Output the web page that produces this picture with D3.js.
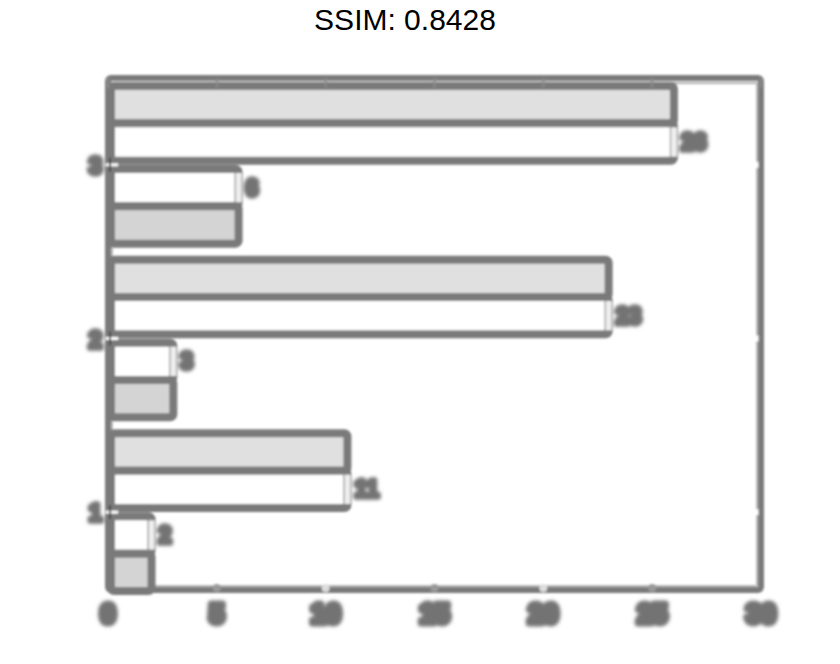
<!DOCTYPE html>
<html><head><meta charset="utf-8">
<script src="https://cdn.jsdelivr.net/npm/d3@7"></script>
<style>body{margin:0;background:#fff;}svg{display:block;}</style>
</head><body>
<script>
const title = "SSIM: 0.8428";
const categories = ["3", "2", "1"];
const upperValues = [26, 23, 11];
const lowerValues = [6, 3, 2];
const xTicks = [0, 5, 10, 15, 20, 25, 30];

const W = 840, H = 664;
const M = {left: 108, right: 80, top: 78, bottom: 74};
const svg = d3.select("body").append("svg").attr("width", W).attr("height", H);

const defs = svg.append("defs");
defs.append("filter").attr("id","blur").attr("x","-5%").attr("y","-5%").attr("width","110%").attr("height","110%")
  .append("feGaussianBlur").attr("stdDeviation", 1.3);
defs.append("filter").attr("id","blur2").attr("x","-30%").attr("y","-30%").attr("width","160%").attr("height","160%")
  .append("feGaussianBlur").attr("stdDeviation", 1.6);

svg.append("text").attr("x", 405).attr("y", 30).attr("text-anchor","middle")
  .attr("font-family","Liberation Sans, Arial, sans-serif").attr("font-size", 30).attr("fill","#000")
  .text(title);

const x = d3.scaleLinear().domain([0, 30]).range([M.left, W - M.right + 1]);
const y = d3.scaleBand().domain(categories).range([M.top, 599]).paddingInner(0).paddingOuter(0);
const half = y.bandwidth() / 2;
const yPair = d3.scaleBand().domain(["a", "b"]).range([-half + 8, half - 8]).paddingInner(0.1);
const ySub = d3.scaleBand().domain(["0", "1"]).range([0, yPair.bandwidth()]);

const g = svg.append("g").attr("filter","url(#blur)");
const gray = "#7a7a7a";

// frame
const yBottom = 590;
g.append("rect").attr("x", x(0)).attr("y", M.top).attr("width", x(30) - x(0)).attr("height", yBottom - M.top)
  .attr("fill","none").attr("stroke", gray).attr("stroke-width", 6).attr("rx", 3);
g.append("line").attr("x1", x(0)+4).attr("x2", x(30)-4).attr("y1", M.top+5).attr("y2", M.top+5)
  .attr("stroke","#b0b0b0").attr("stroke-width", 2);
g.append("line").attr("x1", x(0)+4).attr("x2", x(30)-4).attr("y1", yBottom-4).attr("y2", yBottom-4)
  .attr("stroke","#b8b8b8").attr("stroke-width", 2);
g.append("line").attr("x1", x(0)+4).attr("x2", x(0)+4).attr("y1", M.top+4).attr("y2", yBottom-4)
  .attr("stroke","#b8b8b8").attr("stroke-width", 2);
g.append("line").attr("x1", x(30)-4).attr("x2", x(30)-4).attr("y1", M.top+4).attr("y2", yBottom-4)
  .attr("stroke","#b8b8b8").attr("stroke-width", 2);

// bars
categories.forEach((c, i) => {
  const yc = y(c) + half;
  const rows = [
    {pair:"a", sub:"0", v: upperValues[i], fill:"#e0e0e0", label:false},
    {pair:"a", sub:"1", v: upperValues[i], fill:"#ffffff", label:true},
    {pair:"b", sub:"0", v: lowerValues[i], fill:"#ffffff", label:true},
    {pair:"b", sub:"1", v: lowerValues[i], fill:"#d4d4d4", label:false}
  ];
  rows.forEach(r => {
    const yy = yc + yPair(r.pair) + ySub(r.sub);
    const bh = ySub.bandwidth();
    g.append("rect").attr("x", x(0)+3).attr("y", yy).attr("width", x(r.v) - x(0) - 3).attr("height", bh)
      .attr("fill", r.fill).attr("stroke", gray).attr("stroke-width", 8).attr("rx", 3);
    if (r.label) {
      g.append("line").attr("x1", x(r.v)).attr("x2", x(r.v)).attr("y1", yy+4).attr("y2", yy + bh - 4)
        .attr("stroke","#eeeeee").attr("stroke-width", 6);
      g.append("text").attr("x", x(r.v) + 7).attr("y", yy + bh/2 + 8)
        .attr("font-family","Liberation Sans, Arial, sans-serif").attr("font-weight","bold").attr("font-size", 23)
        .attr("fill", "#6a6a6a").attr("stroke","#737373").attr("stroke-width", 5.5).attr("stroke-linejoin","round")
        .attr("filter","url(#blur2)")
        .text(r.v);
    }
  });
});

// y axis ticks / labels
categories.forEach(c => {
  const yc = y(c) + half;
  g.append("line").attr("x1", x(0)-2).attr("x2", x(0)+10).attr("y1", yc).attr("y2", yc)
    .attr("stroke","#ffffff").attr("stroke-width", 3);
  g.append("line").attr("x1", x(0)+2).attr("x2", x(0)+2).attr("y1", yc-7).attr("y2", yc+7)
    .attr("stroke","#444").attr("stroke-width", 2);
  g.append("text").attr("x", x(0) - 6).attr("y", yc + 9).attr("text-anchor","end")
    .attr("font-family","Liberation Sans, Arial, sans-serif").attr("font-weight","bold").attr("font-size", 24)
    .attr("fill","#6a6a6a").attr("stroke","#737373").attr("stroke-width", 5.5).attr("stroke-linejoin","round")
    .attr("filter","url(#blur2)").text(c);
  g.append("line").attr("x1", x(30)-4).attr("x2", x(30)-4).attr("y1", yc-3).attr("y2", yc+3)
    .attr("stroke","#ffffff").attr("stroke-width", 3);
});

// x axis ticks / labels
xTicks.forEach(t => {
  g.append("line").attr("x1", x(t)).attr("x2", x(t)).attr("y1", M.top).attr("y2", M.top+10)
    .attr("stroke", "#8a8a8a").attr("stroke-width", 2);
  if (t > 0 && t < 30) {
    g.append("circle").attr("cx", x(t)).attr("cy", yBottom - 2).attr("r", 4)
      .attr("fill", (t === 10 || t === 20) ? "#dddddd" : "#999999");
  }
  g.append("text").attr("x", x(t)).attr("y", 623).attr("text-anchor","middle")
    .attr("font-family","Liberation Sans, Arial, sans-serif").attr("font-weight","bold").attr("font-size", 27)
    .attr("fill","#6a6a6a").attr("stroke","#737373").attr("stroke-width", 7).attr("stroke-linejoin","round")
    .attr("filter","url(#blur2)").text(t);
});
</script>
</body></html>
